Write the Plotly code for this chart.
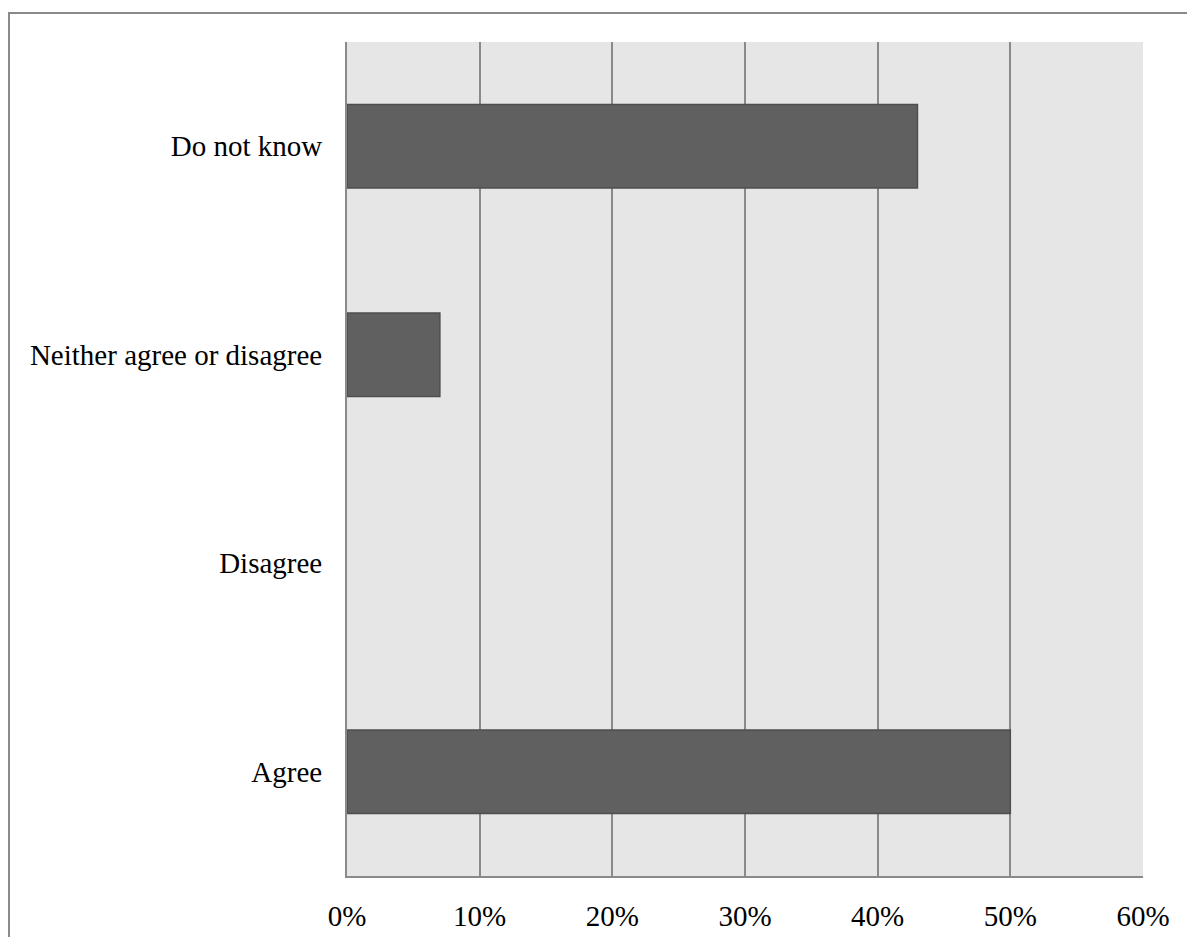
import plotly.graph_objects as go

# Survey responses (share of respondents)
categories = ["Agree", "Disagree", "Neither agree or disagree", "Do not know"]
shares = [0.50, 0.0, 0.07, 0.43]
x_ticks = [0.0, 0.1, 0.2, 0.3, 0.4, 0.5, 0.6]
x_tick_labels = ["0%", "10%", "20%", "30%", "40%", "50%", "60%"]

W, H = 1187, 937
L, R, T, B = 347, 44, 42, 61
pw, ph = W - L - R, H - T - B

fig = go.Figure(
    go.Bar(
        x=shares,
        y=categories,
        orientation="h",
        marker=dict(
            color="#606060",
            line=dict(color="#4e4e4e", width=[1.5 if v > 0 else 0 for v in shares]),
        ),
        width=0.4,
        hoverinfo="skip",
    )
)

font = dict(family="Liberation Serif, Times New Roman, serif", size=29, color="#000000")

fig.update_layout(
    width=W,
    height=H,
    margin=dict(l=L, r=R, t=T, b=B, pad=0, autoexpand=False),
    paper_bgcolor="#ffffff",
    plot_bgcolor="#e6e6e6",
    font=font,
    showlegend=False,
    xaxis=dict(
        range=[0, 0.6],
        tickvals=x_ticks,
        ticktext=x_tick_labels,
        showgrid=True,
        gridcolor="#8a8a8a",
        gridwidth=2,
        zeroline=False,
        showline=True,
        linecolor="#8a8a8a",
        linewidth=2,
        ticks="",
        ticklabelstandoff=13,
        automargin=False,
        fixedrange=True,
    ),
    yaxis=dict(
        categoryorder="array",
        categoryarray=categories,
        range=[-0.5, 3.5],
        showgrid=False,
        zeroline=False,
        showline=True,
        linecolor="#8a8a8a",
        linewidth=2,
        ticks="",
        ticklabelstandoff=17,
        automargin=False,
        fixedrange=True,
    ),
    shapes=[
        # outer chart frame (only the top and left edges fall inside the page)
        dict(
            type="rect",
            xref="paper",
            yref="paper",
            x0=(9 - L) / pw,
            x1=(W + 10 - L) / pw,
            y0=-(H + 10 - (T + ph)) / ph,
            y1=(T + ph - 13) / ph,
            line=dict(color="#8a8a8a", width=2),
            fillcolor="rgba(0,0,0,0)",
            layer="below",
        )
    ],
)

fig.write_html("out.html")
